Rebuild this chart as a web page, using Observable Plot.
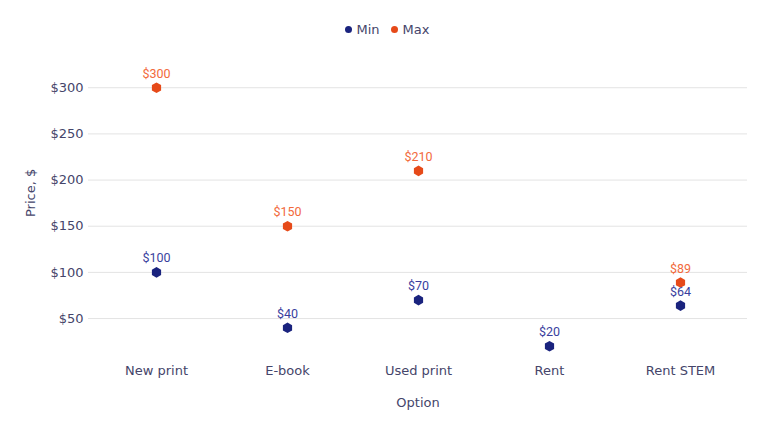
<!DOCTYPE html>
<html><head><meta charset="utf-8">
<script src="https://cdn.jsdelivr.net/npm/d3@7"></script>
<script src="https://cdn.jsdelivr.net/npm/@observablehq/plot@0.6"></script>
<style>
body{margin:0;background:#fff;font-family:"DejaVu Sans",Verdana,sans-serif;}
#legend{height:45px;display:flex;justify-content:center;align-items:flex-start;padding-top:22px;box-sizing:border-box;font-size:13px;color:#45456a;gap:11px;padding-left:6px;}
#legend span{display:flex;align-items:center;gap:5px;}
#legend i{display:inline-block;width:7px;height:7px;border-radius:50%;}
</style></head>
<body>
<div id="legend"></div>
<div id="chart"></div>
<script>
const categories = ["New print","E-book","Used print","Rent","Rent STEM"];
const minValues = [100,40,70,20,64];
const maxValues = [300,150,210,null,89];
const seriesNames = ["Min","Max"];
const seriesColors = ["#1a237e","#e64a19"];
const labelColors = ["#3a3f9e","#f26a3c"];
const yTicks = [50,100,150,200,250,300];

const data = [];
categories.forEach((c,i)=>{
  if(minValues[i]!=null) data.push({option:c, series:"Min", value:minValues[i]});
  if(maxValues[i]!=null) data.push({option:c, series:"Max", value:maxValues[i]});
});

const leg = document.getElementById("legend");
seriesNames.forEach((s,i)=>{
  const sp=document.createElement("span");
  sp.innerHTML=`<i style="background:${seriesColors[i]}"></i>${s}`;
  leg.appendChild(sp);
});

const chart = Plot.plot({
  width:768, height:386,
  marginLeft:88, marginRight:21, marginTop:33, marginBottom:76,
  style:{fontFamily:"DejaVu Sans, Verdana, sans-serif", fontSize:"13px", color:"#45456a", background:"#fff"},
  x:{type:"point", domain:categories, padding:0.5, label:null},
  y:{domain:[10,310], label:null},
  color:{domain:seriesNames, range:seriesColors},
  marks:[
    Plot.gridY(yTicks,{stroke:"#e3e3e3", strokeOpacity:1}),
    Plot.axisY(yTicks,{tickFormat:d=>"$"+d, tickSize:0, tickPadding:5, fontSize:13, fill:"#45456a", label:null}),
    Plot.axisX({tickSize:0, tickPadding:10, fontSize:13, fill:"#45456a", label:null}),
    Plot.text(["Option"],{frameAnchor:"bottom", dy:51, fill:"#45456a", fontSize:13}),
    Plot.text(["Price, $"],{frameAnchor:"left", rotate:-90, dx:-58, fill:"#45456a", fontSize:13}),
    Plot.dot(data,{x:"option", y:"value", fill:"series", symbol:"hexagon", r:4.6}),
    Plot.text(data,{x:"option", y:"value", text:d=>"$"+d.value, dy:-14, fill:d=>labelColors[seriesNames.indexOf(d.series)], fontFamily:"Roboto, sans-serif", fontSize:12.5})
  ]
});
document.getElementById("chart").appendChild(chart);
</script>
</body></html>
